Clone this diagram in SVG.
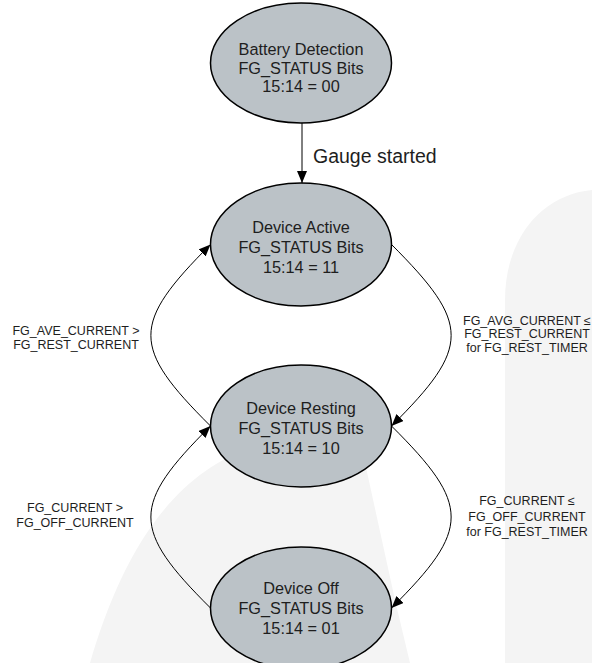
<svg xmlns="http://www.w3.org/2000/svg" width="592" height="663" viewBox="0 0 592 663">
  <defs>
    <marker id="arrow" viewBox="0 0 12 10" refX="12" refY="5" markerWidth="12" markerHeight="10" markerUnits="userSpaceOnUse" orient="auto">
      <path d="M0,0 L12,5 L0,10 Z" fill="#000"/>
    </marker>
    <style>
      .node ellipse { fill: #bbc2c7; stroke: #000; stroke-width: 1.5; }
      .node text { font-family: "Liberation Sans", Arial, sans-serif; font-size: 16.3px; fill: #1e1e1e; text-anchor: middle; }
      .conn { fill: none; stroke: #000; stroke-width: 1; marker-end: url(#arrow); }
      .lbl { font-family: "Liberation Sans", Arial, sans-serif; font-size: 12.5px; fill: #1e1e1e; text-anchor: middle; }
      .wm { fill: #f4f4f4; stroke: none; }
    </style>
  </defs>
  <rect width="592" height="663" fill="#fff"/>
  <g id="watermark">
    <path class="wm" d="M505,663 L505,300 C505,240 540,195 592,190 L592,663 Z"/>
    <path class="wm" d="M90,663 C120,560 170,470 260,445 C300,435 340,436 360,440 L395,600 L410,663 Z"/>
  </g>
  <g id="connectors">
    <line class="conn" x1="302" y1="123" x2="302" y2="183"/>
    <path class="conn" d="M210.5,426 C131,347 131,324 210.5,244.5"/>
    <path class="conn" d="M210.5,608 C131,529 131,505 210.5,426"/>
    <path class="conn" d="M391.5,244.5 C471,324 471,347 391.5,426"/>
    <path class="conn" d="M391.5,426 C471,505 471,529 391.5,608"/>
    <text x="313" y="163" font-family="Liberation Sans, Arial, sans-serif" font-size="19.5" fill="#1e1e1e">Gauge started</text>
    <text class="lbl" x="76" y="334.5">FG_AVE_CURRENT &gt;</text>
    <text class="lbl" x="76" y="348.5">FG_REST_CURRENT</text>
    <text class="lbl" x="75" y="512">FG_CURRENT &gt;</text>
    <text class="lbl" x="75" y="527">FG_OFF_CURRENT</text>
    <text class="lbl" x="527" y="324.5">FG_AVG_CURRENT ≤</text>
    <text class="lbl" x="527" y="338">FG_REST_CURRENT</text>
    <text class="lbl" x="527" y="351.5">for FG_REST_TIMER</text>
    <text class="lbl" x="527" y="505">FG_CURRENT ≤</text>
    <text class="lbl" x="527" y="520.5">FG_OFF_CURRENT</text>
    <text class="lbl" x="527" y="536">for FG_REST_TIMER</text>
  </g>
  <g id="battery-detection" class="node">
    <ellipse cx="301" cy="63" rx="90.5" ry="60"/>
    <text x="301" y="55">Battery Detection</text>
    <text x="301" y="73.5">FG_STATUS Bits</text>
    <text x="301" y="92">15:14 = 00</text>
  </g>
  <g id="device-active" class="node">
    <ellipse cx="301" cy="244.5" rx="90.5" ry="61.5"/>
    <text x="301" y="233">Device Active</text>
    <text x="301" y="253">FG_STATUS Bits</text>
    <text x="301" y="273">15:14 = 11</text>
  </g>
  <g id="device-resting" class="node">
    <ellipse cx="301" cy="426" rx="90.5" ry="61"/>
    <text x="301" y="413.5">Device Resting</text>
    <text x="301" y="433.5">FG_STATUS Bits</text>
    <text x="301" y="453.5">15:14 = 10</text>
  </g>
  <g id="device-off" class="node">
    <ellipse cx="301" cy="608" rx="90.5" ry="61"/>
    <text x="301" y="594">Device Off</text>
    <text x="301" y="614">FG_STATUS Bits</text>
    <text x="301" y="634">15:14 = 01</text>
  </g>
</svg>
